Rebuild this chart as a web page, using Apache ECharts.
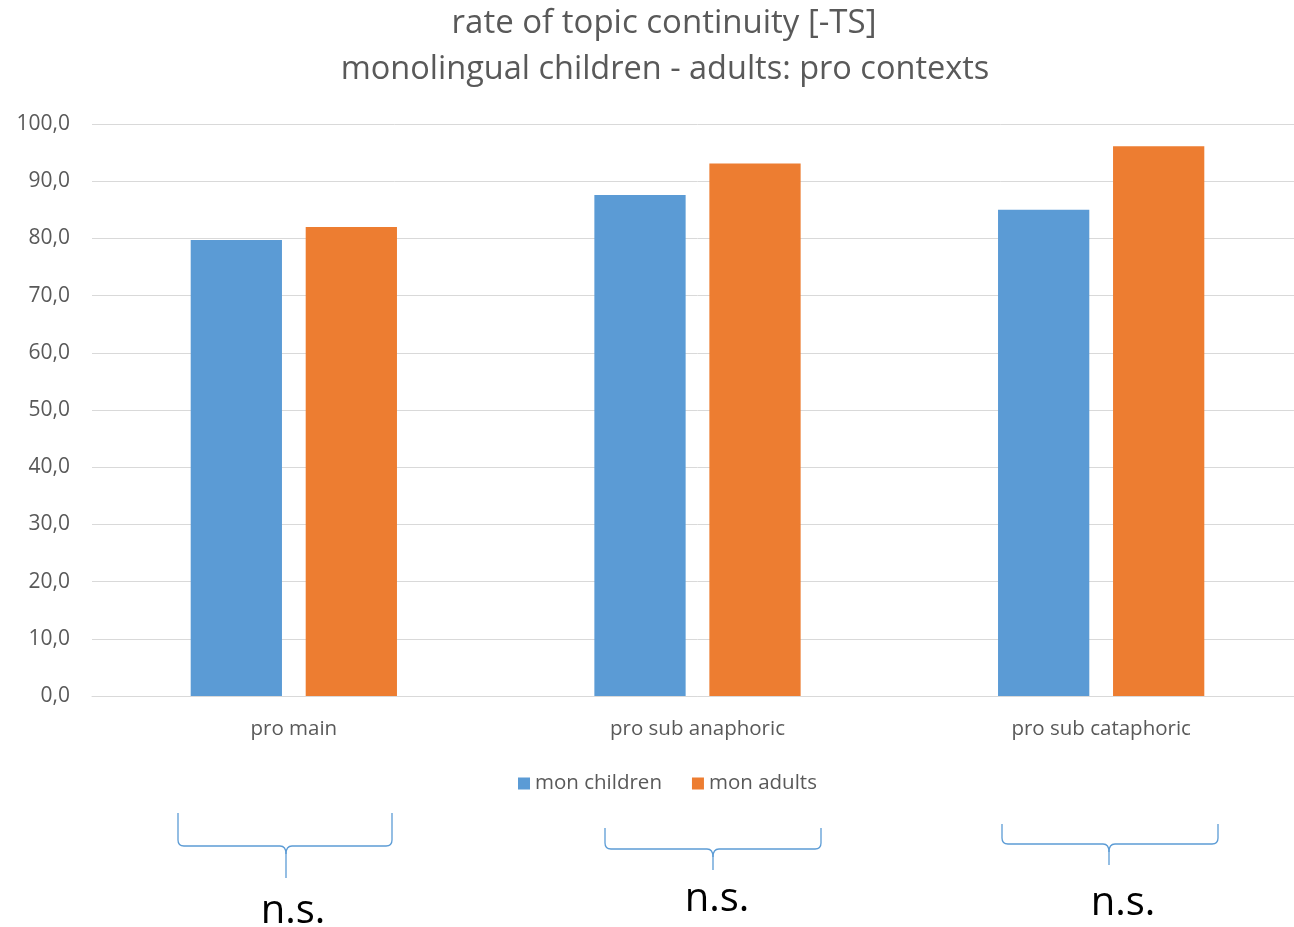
<!DOCTYPE html>
<html>
<head>
<meta charset="utf-8">
<script src="https://cdn.jsdelivr.net/npm/echarts@6/dist/echarts.min.js"></script>
<style>
  html, body { margin: 0; padding: 0; background: #fff; overflow: hidden; }
  /* plot area runs slightly past the right edge of the page */
  #chart { width: 1303px; height: 927px; }
</style>
</head>
<body>
<div id="chart"></div>
<script>
// Categories and values (rate of topic continuity, %)
const categories = ['pro main', 'pro sub anaphoric', 'pro sub cataphoric'];
const monChildren = [79.7, 87.6, 85.0];
const monAdults = [82.0, 93.1, 96.1];
const seriesNames = ['mon children', 'mon adults'];
const significance = ['n.s.', 'n.s.', 'n.s.'];

const FONT = '"Open Sans", "Noto Sans", sans-serif';
const TEXT_GREY = '#595959';
const BRACE_BLUE = '#5B9BD5';

// Downward-opening curly brace built from straight segments and quadratic curves
function braceElements(b) {
  const r = 6;
  const style = { stroke: BRACE_BLUE, lineWidth: 1.3, fill: 'none' };
  const line = (x1, y1, x2, y2) => ({ type: 'line', shape: { x1, y1, x2, y2 }, style });
  const curve = (x1, y1, cx, cy, x2, y2) => ({
    type: 'bezierCurve', shape: { x1, y1, cpx1: cx, cpy1: cy, x2, y2 }, style
  });
  return [
    line(b.x0, b.yTop, b.x0, b.yBar - r),
    curve(b.x0, b.yBar - r, b.x0, b.yBar, b.x0 + r, b.yBar),
    line(b.x0 + r, b.yBar, b.xc - r, b.yBar),
    curve(b.xc - r, b.yBar, b.xc, b.yBar, b.xc, b.yBar + r + 2),
    line(b.xc, b.yBar + r + 2, b.xc, b.yTip),
    curve(b.xc, b.yBar + r + 2, b.xc, b.yBar, b.xc + r, b.yBar),
    line(b.xc + r, b.yBar, b.x1 - r, b.yBar),
    curve(b.x1 - r, b.yBar, b.x1, b.yBar, b.x1, b.yBar - r),
    line(b.x1, b.yBar - r, b.x1, b.yTop)
  ];
}

const braces = [
  { x0: 178, x1: 392, xc: 286, yTop: 813, yBar: 846, yTip: 878, tx: 293, ty: 912 },
  { x0: 605, x1: 821, xc: 713, yTop: 828, yBar: 849, yTip: 870, tx: 717, ty: 900 },
  { x0: 1002, x1: 1218, xc: 1109, yTop: 824, yBar: 844, yTip: 865, tx: 1123, ty: 904 }
];

const graphics = [];
braces.forEach((b, i) => {
  braceElements(b).forEach(el => graphics.push(el));
  graphics.push({
    type: 'text',
    x: b.tx, y: b.ty,
    style: {
      text: significance[i],
      font: '40px ' + FONT,
      fill: '#000',
      textAlign: 'center',
      textVerticalAlign: 'middle'
    }
  });
});

const chart = echarts.init(document.getElementById('chart'), null, { renderer: 'canvas' });
chart.setOption({
  animation: false,
  textStyle: { fontFamily: FONT },
  title: [
    {
      text: 'rate of topic continuity [-TS]',
      left: 659, top: 2, textAlign: 'center',
      textStyle: { fontSize: 33, fontWeight: 'normal', color: TEXT_GREY, fontFamily: FONT }
    },
    {
      text: 'monolingual children - adults: pro contexts',
      left: 660, top: 48, textAlign: 'center',
      textStyle: { fontSize: 32.5, fontWeight: 'normal', color: TEXT_GREY, fontFamily: FONT }
    }
  ],
  legend: {
    data: seriesNames,
    top: 768,
    left: 513,
    itemWidth: 12, itemHeight: 12,
    itemGap: 30,
    icon: 'rect',
    textStyle: { fontSize: 20.5, color: TEXT_GREY, fontFamily: FONT }
  },
  grid: { left: 92, right: 0, top: 124, bottom: 231, containLabel: false },
  xAxis: {
    type: 'category',
    data: categories,
    axisLine: { lineStyle: { color: '#d9d9d9', width: 1 } },
    axisTick: { show: false },
    axisLabel: { fontSize: 20.5, color: TEXT_GREY, margin: 23, fontFamily: FONT }
  },
  yAxis: {
    type: 'value',
    min: 0, max: 100, interval: 10,
    axisLine: { show: false },
    axisTick: { show: false },
    splitLine: { lineStyle: { color: '#d9d9d9', width: 1 } },
    axisLabel: {
      fontSize: 21, color: TEXT_GREY, margin: 22, fontFamily: FONT,
      formatter: v => v.toFixed(1).replace('.', ',')
    }
  },
  series: [
    {
      name: seriesNames[0], type: 'bar', data: monChildren,
      itemStyle: { color: '#5B9BD5' },
      barGap: '26%', barCategoryGap: '48.9%'
    },
    {
      name: seriesNames[1], type: 'bar', data: monAdults,
      itemStyle: { color: '#ED7D31' },
      barGap: '26%', barCategoryGap: '48.9%'
    }
  ],
  graphic: graphics
});
</script>
</body>
</html>
